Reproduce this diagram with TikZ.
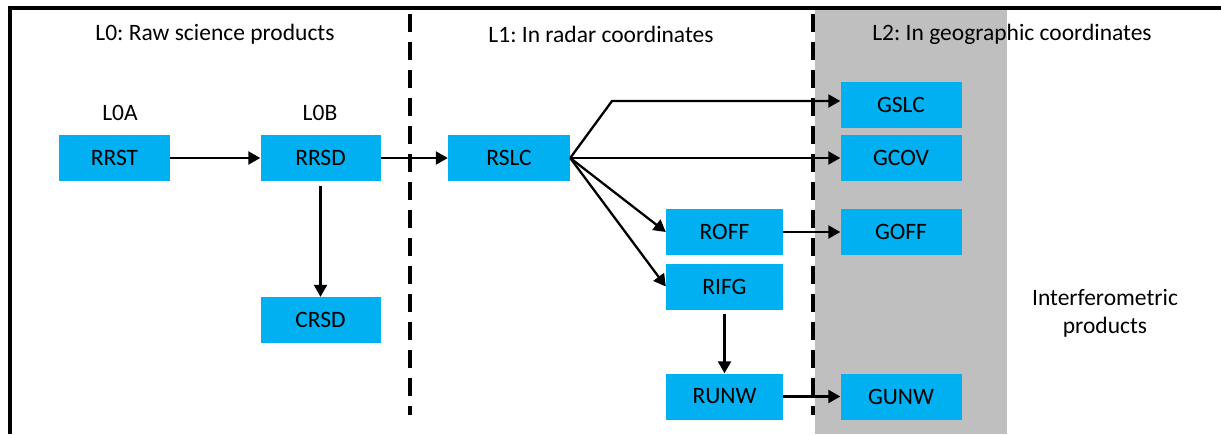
\documentclass[tikz,border=0pt]{standalone}
\usepackage{fontspec}
\setmainfont{Carlito}
\usetikzlibrary{arrows.meta}
\definecolor{prodblue}{HTML}{00B0F0}
\definecolor{geogray}{HTML}{BFBFBF}
\frenchspacing
\begin{document}
\begin{tikzpicture}[x=1pt, y=-1pt,
  prod/.style={fill=prodblue, minimum width=120pt, minimum height=46pt, inner sep=0pt, font=\fontsize{23.5}{27}\selectfont},
  lbl/.style={font=\fontsize{23.5}{28}\selectfont, align=center},
  flow/.style={-{Triangle[length=12pt,width=13pt]}, line width=2.3pt},
  level/.style={line width=4pt, dash pattern=on 18pt off 10pt}]
\useasboundingbox (0,0) rectangle (1221,434);
\fill[geogray] (815,10) rectangle (1007,434);
\draw[line width=3.5pt] (10,434) -- (10,8) -- (1221,8);
\draw[level] (410,14) -- (410,415);
\draw[level] (813,14) -- (813,415);
% headers
\node[lbl] (h0) at (215,34) {L0: Raw science products};
\node[lbl] (h1) at (601,34) {L1: In radar coordinates};
\node[lbl] (h2) at (1012,34) {L2: In geographic coordinates};
\node[lbl] (l0a) at (120,113) {L0A};
\node[lbl] (l0b) at (320,113) {L0B};
\node[lbl] (ifg) at (1105,313) {Interferometric\\products};
% L0
\node[prod, minimum width=111pt] (rrst) at (114.5,158) {RRST};
\node[prod] (rrsd) at (320.5,158) {RRSD};
\node[prod] (crsd) at (320.5,320) {CRSD};
% L1
\node[prod, minimum width=122pt] (rslc) at (509,158) {RSLC};
\node[prod, minimum width=117pt] (roff) at (724.5,232) {ROFF};
\node[prod, minimum width=117pt] (rifg) at (724.5,286.5) {RIFG};
\node[prod, minimum width=117pt] (runw) at (724.5,396.5) {RUNW};
% L2
\node[prod, minimum width=121pt] (gslc) at (901,105) {GSLC};
\node[prod, minimum width=121pt] (gcov) at (901,158) {GCOV};
\node[prod, minimum width=121pt] (goff) at (901,232) {GOFF};
\node[prod, minimum width=121pt] (gunw) at (901,396.5) {GUNW};
\coordinate (bend) at (612,101);
\draw[flow] (rrst) -- (rrsd);
\draw[flow] (rrsd) -- (rslc);
\draw[flow] ([yshift=-5pt]rrsd.south) -- (crsd);
\draw[flow] (rslc.east) -- (bend) -- (bend -| gslc.west);
\draw[flow] (rslc.east) -- (gcov.west);
\draw[flow] (rslc.east) -- (roff.west);
\draw[flow] (rslc.east) -- (rifg.west);
\draw[flow] (roff) -- (goff);
\draw[flow] ([yshift=-4pt]rifg.south) -- (runw);
\draw[flow] (runw) -- (gunw);
\end{tikzpicture}
\end{document}
